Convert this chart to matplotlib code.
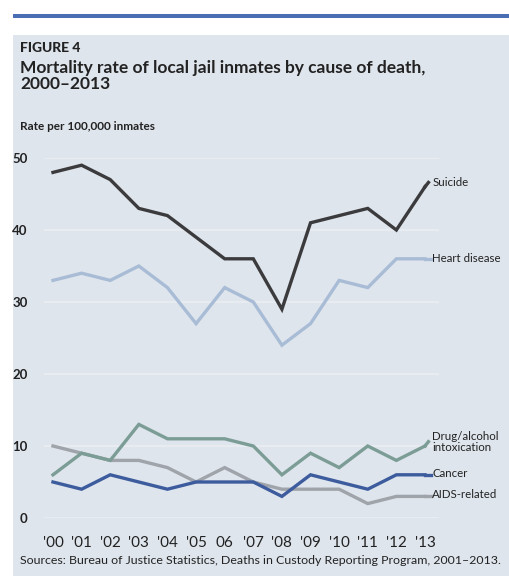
import matplotlib.pyplot as plt
from matplotlib.patches import Rectangle

years = list(range(14))
year_labels = ["'00", "'01", "'02", "'03", "'04", "'05", "06",
               "'07", "'08", "'09", "'10", "'11", "'12", "'13"]

suicide = [48, 49, 47, 43, 42, 39, 36, 36, 29, 41, 42, 43, 40, 46]
heart = [33, 34, 33, 35, 32, 27, 32, 30, 24, 27, 33, 32, 36, 36]
drug = [6, 9, 8, 13, 11, 11, 11, 10, 6, 9, 7, 10, 8, 10]
cancer = [5, 4, 6, 5, 4, 5, 5, 5, 3, 6, 5, 4, 6, 6]
aids = [10, 9, 8, 8, 7, 5, 7, 5, 4, 4, 4, 2, 3, 3]

plt.rcParams['font.family'] = ['Lato', 'DejaVu Sans']

fig = plt.figure(figsize=(5.1, 5.76), dpi=100)
W, H = 510, 576

# panel background and top rule
fig.patches.append(Rectangle((13 / W, 0), 1, 1 - 35 / H, transform=fig.transFigure,
                             facecolor='#dfe5ed', edgecolor='none', zorder=-10))
fig.patches.append(Rectangle((13 / W, 1 - 18 / H), 1, 4 / H, transform=fig.transFigure,
                             facecolor='#4b6db3', edgecolor='none', zorder=-10))

ax = fig.add_axes([44.4 / W, (H - 518) / H, 394.9 / W, 360 / H])
ax.set_facecolor('none')
ax.set_xlim(-0.3, 13.5)
ax.set_ylim(0, 50)

for v in [0, 10, 20, 30, 40, 50]:
    ax.axhline(v, color='#eaeef3', lw=1.2, zorder=1)

series = [
    (aids, '#9fa3aa'),
    (cancer, '#3d5c9e'),
    (drug, '#7c9d96'),
    (heart, '#a9bcd6'),
    (suicide, '#3b3b3d'),
]
for vals, col in series:
    ax.plot(years, vals, color=col, lw=2.4, solid_joinstyle='miter', zorder=3)

# end labels with short leaders
labels = [
    (suicide, '#3b3b3d', 'Suicide', 46.6, False),
    (heart, '#a9bcd6', 'Heart disease', 36, True),
    (drug, '#7c9d96', 'Drug/alcohol\nintoxication', 10.6, False),
    (cancer, '#3d5c9e', 'Cancer', 6.2, True),
    (aids, '#9fa3aa', 'AIDS-related', 3.3, True),
]
for vals, col, name, ly, flat in labels:
    if flat:
        ax.plot([13, 13.2], [vals[-1], vals[-1]], color=col, lw=2.4,
                clip_on=False, zorder=3)
    else:
        ax.plot([13, 13.12], [vals[-1], vals[-1] + 0.6], color=col, lw=2.4,
                clip_on=False, zorder=3)
    ax.text(13.25, ly, name, fontsize=8.3, color='#222222', va='center',
            ha='left', linespacing=1.0, clip_on=False)

ax.set_xticks(years)
ax.set_xticklabels(year_labels, fontsize=11, color='#222222')
ax.set_yticks([0, 10, 20, 30, 40, 50])
ax.set_yticklabels(['0', '10', '20', '30', '40', '50'], fontsize=9.5,
                   color='#222222', fontweight='bold')
ax.tick_params(length=0)
ax.tick_params(axis='x', pad=13)
ax.tick_params(axis='y', pad=12)
for s in ax.spines.values():
    s.set_visible(False)

fig.text(20 / W, 1 - 48 / H, 'FIGURE 4', fontsize=10, fontweight='black',
         color='#222222', va='center')
fig.text(20 / W, 1 - 76 / H,
         'Mortality rate of local jail inmates by cause of death,\n2000\u20132013',
         fontsize=12.5, fontweight='bold', color='#222222', va='center',
         linespacing=0.95)
fig.text(20 / W, 1 - 127 / H, 'Rate per 100,000 inmates', fontsize=8.5,
         fontweight='bold', color='#222222', va='center')
fig.text(20 / W, 1 - 561 / H,
         'Sources: Bureau of Justice Statistics, Deaths in Custody Reporting Program, 2001\u20132013.',
         fontsize=8.9, color='#222222', va='center')

fig.savefig('out.png', dpi=100)
